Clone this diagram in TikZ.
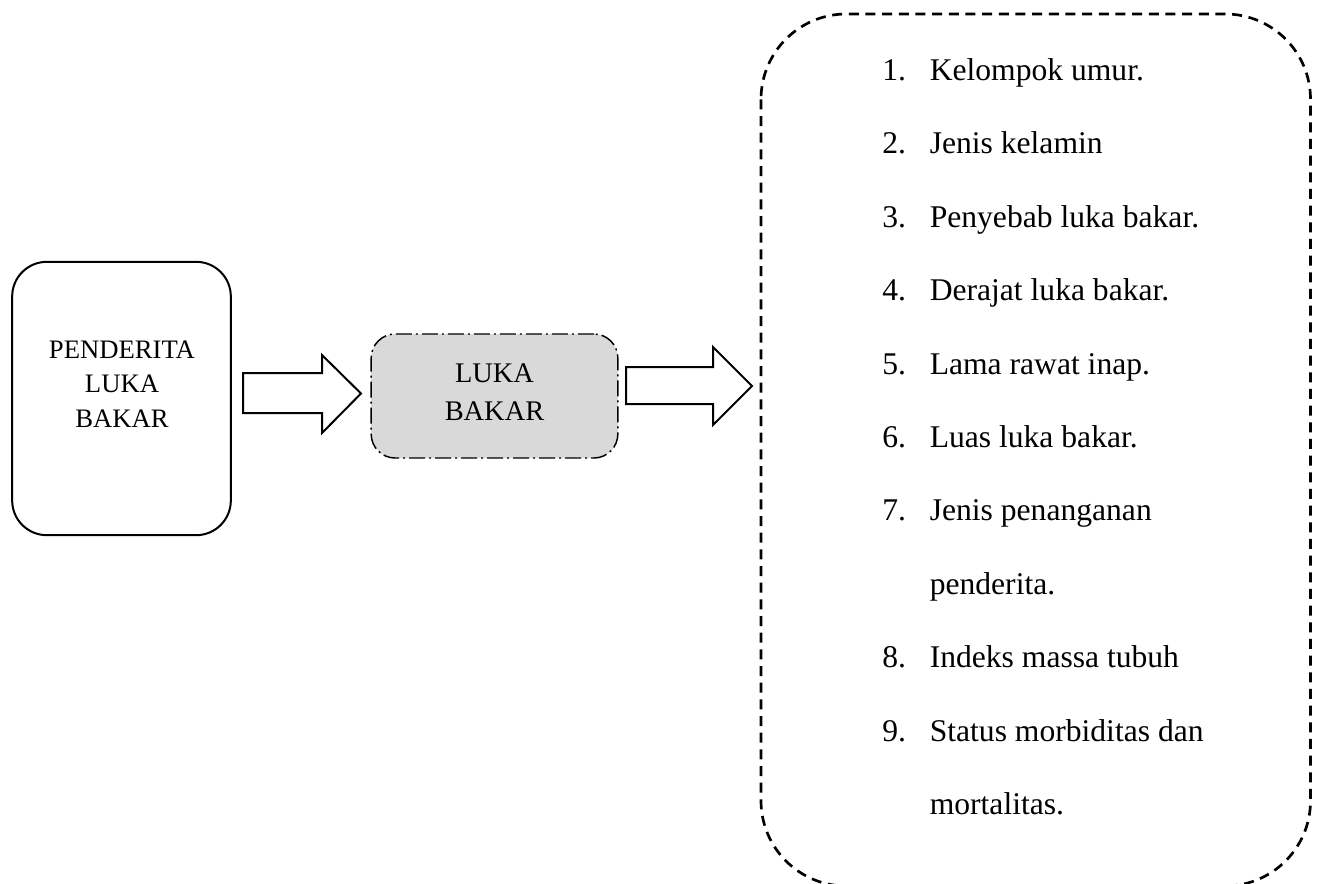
\documentclass[tikz,border=0pt]{standalone}
\usepackage{fontspec}
\setmainfont{Liberation Serif}
\begin{document}
\begin{tikzpicture}[x=0.75pt,y=-0.75pt,
  leftbox/.style={draw=black,line width=1.5pt,rounded corners=26pt,minimum width=164pt,minimum height=205pt,inner sep=0pt},
  midbox/.style={draw=black,line width=1.1pt,rounded corners=18pt,fill=black!15,minimum width=185pt,minimum height=93pt,inner sep=0pt,
     dash pattern=on 12pt off 3pt on 1.5pt off 3pt},
  listbox/.style={draw=black,line width=2pt,rounded corners=64pt,dash pattern=on 7.5pt off 5pt},
  blockarrow/.style={draw=black,line width=1.5pt,fill=white,line join=miter},
  boxtext/.style={align=center,font=\fontsize{20pt}{26pt}\selectfont,inner sep=0pt},
  midtext/.style={align=center,font=\fontsize{21.3pt}{29pt}\selectfont,inner sep=0pt},
  listnum/.style={anchor=base west,font=\fontsize{23.7pt}{26pt}\selectfont,inner sep=0pt},
  listtxt/.style={anchor=base west,font=\fontsize{23.7pt}{26pt}\selectfont,inner sep=0pt}
]
\clip (0,0) rectangle (1320,883);
\fill[white] (0,0) rectangle (1320,883);

% left box
\node[leftbox] (pbox) at (121.5,398.5) {};
\node[boxtext] (ptext) at (122,384) {PENDERITA\\LUKA\\BAKAR};

% middle box
\node[midbox] (lbox) at (494.5,396) {};
\node[midtext] (ltext) at (494.5,392) {LUKA\\BAKAR};

% list box
\draw[listbox] (761,14) rectangle (1310.5,886);

% block arrows
\draw[blockarrow] (243,373) -- (322,373) -- (322,355) -- (361,393.5) -- (322,433) -- (322,413) -- (243,413) -- cycle;
\draw[blockarrow] (626,367) -- (713,367) -- (713,347) -- (752,386) -- (713,425) -- (713,404) -- (626,404) -- cycle;

% list items
\foreach \i/\t [count=\k from 0] in {1/Kelompok umur.,2/Jenis kelamin,3/Penyebab luka bakar.,4/Derajat luka bakar.,5/Lama rawat inap.,6/Luas luka bakar.,7/Jenis penanganan}{
  \node[listnum] (n\i) at (882,{80.5+73.4*\k}) {\i.};
  \node[listtxt] (t\i) at (929.5,{80.5+73.4*\k}) {\t};
}
\node[listtxt] (c7) at (929.5,{80.5+73.4*7}) {penderita.};
\node[listnum] (n8) at (882,{80.5+73.4*8}) {8.};
\node[listtxt] (t8) at (929.5,{80.5+73.4*8}) {Indeks massa tubuh};
\node[listnum] (n9) at (882,{80.5+73.4*9}) {9.};
\node[listtxt] (t9) at (929.5,{80.5+73.4*9}) {Status morbiditas dan};
\node[listtxt] (c9) at (929.5,{80.5+73.4*10}) {mortalitas.};
\end{tikzpicture}
\end{document}
